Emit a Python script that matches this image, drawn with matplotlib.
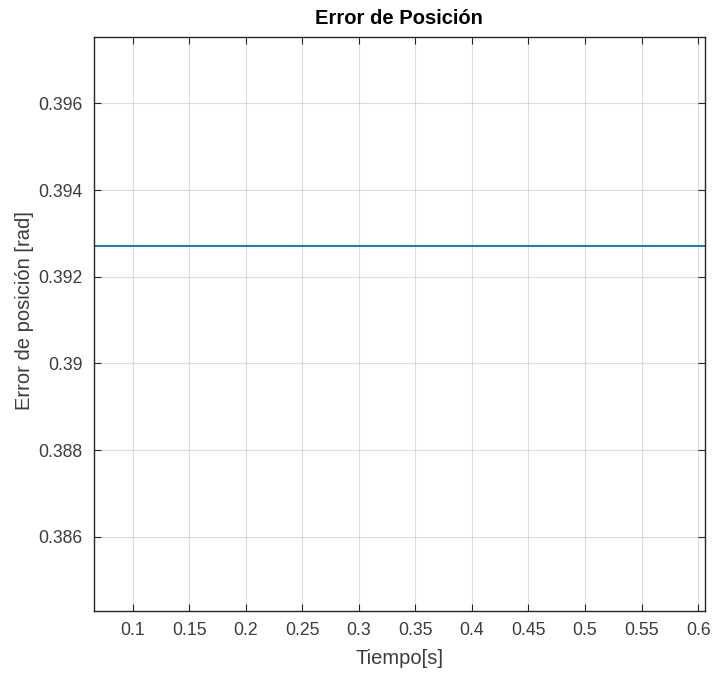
import matplotlib
matplotlib.use('Agg')
import matplotlib.pyplot as plt

plt.rcParams['font.family'] = ['Liberation Sans', 'DejaVu Sans']

# tiempo [s] y error de posicion [rad] (constante ~ pi/8)
tiempo = [0.0658, 0.1, 0.2, 0.3, 0.4, 0.5, 0.6, 0.606]
error_pos = [0.3927, 0.3927, 0.3927, 0.3927, 0.3927, 0.3927, 0.3927, 0.3927]

xticks = [0.1, 0.15, 0.2, 0.25, 0.3, 0.35, 0.4, 0.45, 0.5, 0.55, 0.6]
xticklabels = ['0.1', '0.15', '0.2', '0.25', '0.3', '0.35', '0.4', '0.45', '0.5', '0.55', '0.6']
yticks = [0.386, 0.388, 0.39, 0.392, 0.394, 0.396]
yticklabels = ['0.386', '0.388', '0.39', '0.392', '0.394', '0.396']

axcol = '#262626'
txtcol = '#3c3c3c'

fig = plt.figure(figsize=(7.12, 6.76), dpi=100)
ax = fig.add_axes([0.132, 0.0962, 0.858, 0.8491])

ax.plot(tiempo, error_pos, color='#0072BD', linewidth=1.3)

ax.set_xlim(0.0658, 0.606)
ax.set_ylim(0.38429, 0.39753)
ax.set_xticks(xticks)
ax.set_xticklabels(xticklabels)
ax.set_yticks(yticks)
ax.set_yticklabels(yticklabels)

ax.grid(True, color='#262626', alpha=0.15, linewidth=0.8)
ax.tick_params(direction='in', top=True, right=True, length=5, width=0.8,
               colors=axcol, labelcolor=txtcol, labelsize=12.7, pad=8)
for s in ax.spines.values():
    s.set_color(axcol)
    s.set_linewidth(1.0)

ax.set_title('Error de Posición', fontsize=14.5, fontweight='bold', color='black', pad=9)
ax.set_xlabel('Tiempo[s]', fontsize=14.5, color=txtcol, labelpad=7)
ax.set_ylabel('Error de posición [rad]', fontsize=14.5, color=txtcol)
ax.yaxis.set_label_coords(-0.098, 0.523)

fig.savefig('out.png', dpi=100)
